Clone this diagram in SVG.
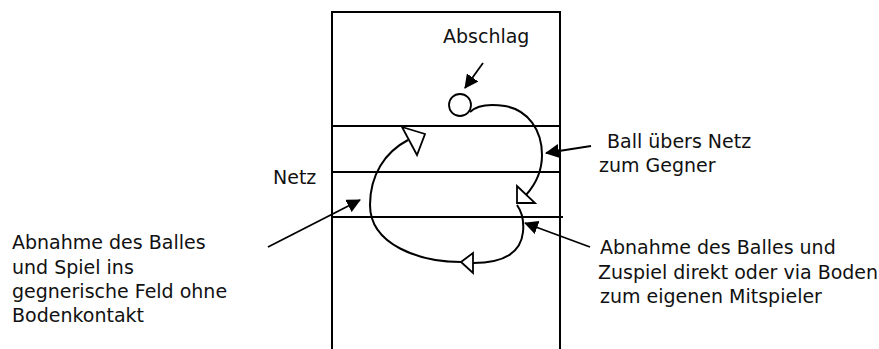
<svg xmlns="http://www.w3.org/2000/svg" width="879" height="349" viewBox="0 0 879 349">
  <style>
    .t { font-family: "DejaVu Sans", "Liberation Sans", sans-serif; font-size: 19px; fill: #111; }
    .ln { fill: none; stroke: #000; stroke-width: 2; }
    .cv { fill: none; stroke: #000; stroke-width: 2; }
    .pt { fill: none; stroke: #000; stroke-width: 1.8; marker-end: url(#ah); }
    .hh { fill: #fff; stroke: #000; stroke-width: 1.8; stroke-linejoin: miter; }
  </style>
  <defs>
    <marker id="ah" viewBox="0 0 14 14" refX="13" refY="7" markerWidth="14" markerHeight="14" markerUnits="userSpaceOnUse" orient="auto">
      <path d="M0,0 L14,7 L0,14 z" fill="#000"/>
    </marker>
  </defs>

  <g id="court">
    <path class="ln" d="M332,349 V12 H560 V349"/>
    <line class="ln" x1="332" y1="126" x2="560" y2="126"/>
    <line class="ln" x1="332" y1="172" x2="560" y2="172"/>
    <line class="ln" x1="332" y1="217" x2="563" y2="217"/>
  </g>

  <g id="ball">
    <circle cx="460" cy="105" r="11" fill="#fff" stroke="#000" stroke-width="1.8"/>
  </g>

  <g id="label-abschlag">
    <text class="t" x="443" y="43">Abschlag</text>
  </g>
  <g id="label-netz">
    <text class="t" x="273" y="184">Netz</text>
  </g>
  <g id="label-ball">
    <text class="t" x="607" y="148">Ball übers Netz</text>
    <text class="t" x="599" y="172">zum Gegner</text>
  </g>
  <g id="label-right">
    <text class="t" x="600" y="254">Abnahme des Balles und</text>
    <text class="t" x="598" y="278.5">Zuspiel direkt oder via Boden</text>
    <text class="t" x="600" y="303">zum eigenen Mitspieler</text>
  </g>
  <g id="label-left">
    <text class="t" x="12" y="249">Abnahme des Balles</text>
    <text class="t" x="12" y="273.5">und Spiel ins</text>
    <text class="t" x="12" y="298">gegnerische Feld ohne</text>
    <text class="t" x="12" y="322">Bodenkontakt</text>
  </g>

  <g id="connectors">
    <path class="cv" d="M470,112 C478,104 492,104 505,106 C528,110 542,130 542,155 C542,172 535,185 526,195"/>
    <polygon class="hh" points="517,186 535,203 517,203"/>
    <path class="cv" d="M517,205 C522,212 524,222 523,232 C521,252 505,263 473,263"/>
    <polygon class="hh" points="461,262 473,253 473,273"/>
    <path class="cv" d="M461,262 C420,262 370,245 370,205 C370,175 385,152 408,140"/>
    <polygon class="hh" points="402,127 425,134 417,155"/>

    <line class="pt" x1="483" y1="63" x2="465" y2="88"/>
    <line class="pt" x1="268" y1="247" x2="360" y2="200"/>
    <line class="pt" x1="591" y1="146" x2="546" y2="153"/>
    <line class="pt" x1="590" y1="247" x2="525" y2="223"/>
  </g>
</svg>
